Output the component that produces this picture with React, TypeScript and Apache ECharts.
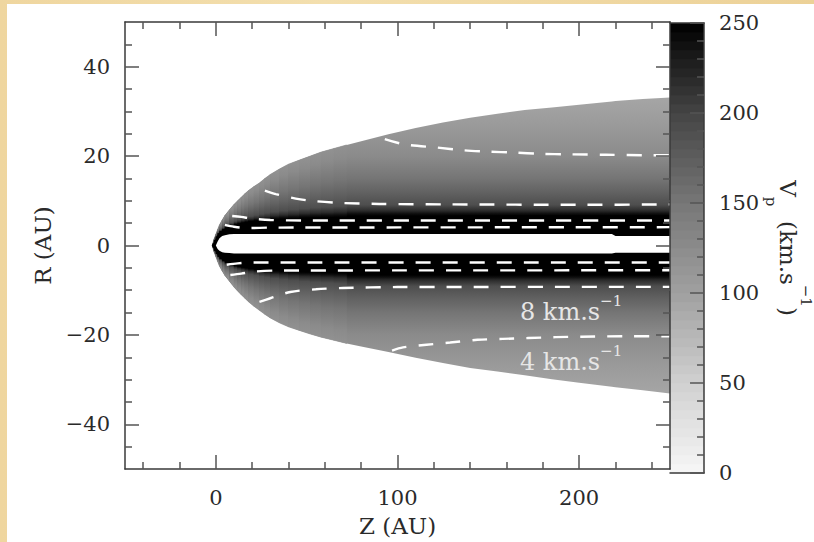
import React, { useEffect, useRef } from 'react';
import * as echarts from 'echarts';

// ---- axes ----
const zMin = -50;
const zMax = 250;
const rMin = -50;
const rMax = 50;
const zMajor = [0, 100, 200];
const zMinor = [-40, -20, 20, 40, 60, 80, 120, 140, 160, 180, 220, 240];
const rMajor = [-40, -20, 0, 20, 40];
const rMinor = [-45, -35, -30, -25, -15, -10, -5, 5, 10, 15, 25, 30, 35, 45];

// ---- colour bar (V_p, km/s) ----
const cbMin = 0;
const cbMax = 250;
const cbStopV = [0, 50, 100, 150, 200, 250];
const cbStopG = [247, 208, 160, 119, 68, 0];
const cbLevels = [0, 5, 10, 15, 20, 25, 30, 35, 40, 45, 50, 55, 60, 65, 70, 75, 80, 85, 90, 95, 100, 105, 110, 115, 120, 125, 130, 135, 140, 145, 150, 155, 160, 165, 170, 175, 180, 185, 190, 195, 200, 205, 210, 215, 220, 225, 230, 235, 240, 245];

// ---- field geometry (Z in AU, R in AU) ----
const zGrid = [-2, -1, 0, 1, 2, 3.5, 5, 7.5, 10, 12, 14, 16, 18, 21, 24, 27, 30, 35, 40, 46, 52, 58, 65, 72, 80, 95, 110, 125, 140, 155, 170, 185, 200, 218, 220, 235, 250];
const outerTop = [0, 1.4, 2.5, 3.6, 4.6, 5.7, 6.7, 8.0, 9.2, 10.0, 10.8, 11.6, 12.3, 13.2, 14.0, 15.0, 15.9, 17.1, 18.2, 19.1, 20.0, 20.9, 21.7, 22.5, 23.3, 24.9, 26.3, 27.5, 28.6, 29.5, 30.3, 30.9, 31.5, 32.2, 32.3, 32.8, 33.1];
const outerBot = [0, -1.4, -2.5, -3.6, -4.6, -5.7, -6.7, -8.0, -9.3, -10.2, -11.0, -11.8, -12.6, -13.6, -14.5, -15.4, -16.2, -17.3, -18.2, -19.0, -19.8, -20.5, -21.2, -21.9, -22.6, -23.8, -25.1, -26.3, -27.4, -28.2, -29.0, -29.9, -30.7, -31.6, -31.7, -32.4, -33.1];
const blackTop = [0, 0.8, 1.5, 2.4, 2.9, 3.4, 3.8, 4.2, 4.6, 4.8, 5.0, 5.15, 5.3, 5.45, 5.6, 5.7, 5.8, 5.9, 6.0, 6.1, 6.2, 6.25, 6.3, 6.35, 6.4, 6.5, 6.6, 6.6, 6.7, 6.7, 6.7, 6.7, 6.7, 6.7, 6.7, 6.7, 6.7];
const blackBot = [0, -0.8, -1.4, -2.2, -2.7, -3.2, -3.6, -4.0, -4.4, -4.6, -4.8, -4.95, -5.1, -5.25, -5.4, -5.5, -5.6, -5.7, -5.8, -5.9, -6.0, -6.05, -6.1, -6.15, -6.2, -6.3, -6.4, -6.5, -6.5, -6.5, -6.6, -6.6, -6.6, -6.6, -6.6, -6.6, -6.6];
const whiteTop = [0, 0, 0, 0.9, 1.6, 2.1, 2.3, 2.5, 2.6, 2.6, 2.6, 2.6, 2.6, 2.6, 2.6, 2.6, 2.6, 2.6, 2.6, 2.6, 2.6, 2.6, 2.6, 2.6, 2.6, 2.6, 2.6, 2.6, 2.6, 2.6, 2.6, 2.6, 2.6, 2.6, 2.1, 2.1, 2.1];
const whiteBot = [0, 0, 0, -0.8, -1.2, -1.5, -1.6, -1.7, -1.8, -1.8, -1.8, -1.8, -1.8, -1.8, -1.8, -1.8, -1.8, -1.8, -1.8, -1.8, -1.8, -1.8, -1.8, -1.8, -1.8, -1.8, -1.8, -1.8, -1.8, -1.8, -1.8, -1.8, -1.8, -1.8, -1.6, -1.6, -1.6];

// V_p profile vs distance (AU) outward from the black core edge, read at Z ~ 200
const coreRef = 6.6;
const dProfile = [0, 0.5, 1.2, 2.5, 5.5, 8.4, 13.4, 18.4, 23.3, 27];
const vProfile = [250, 240, 218, 190, 170, 152, 126, 112, 100, 94];
const spanRef = 16; // core-to-edge width (AU) below which the profile is compressed (nose)

// ---- dashed contours ----
const cAupZ = [93, 104, 122, 136, 150, 164, 179, 194, 215, 238, 250];
const cAupR = [23.8, 22.6, 21.9, 21.3, 21.0, 20.8, 20.5, 20.4, 20.3, 20.2, 20.2];
const cAloZ = [97, 103, 116, 129, 144, 158, 172, 187, 201, 225, 250];
const cAloR = [-23.5, -22.8, -22.2, -21.7, -21.1, -20.9, -20.7, -20.5, -20.4, -20.3, -20.3];
const cBupZ = [27, 33, 44, 55, 70, 90, 130, 200, 250];
const cBupR = [12.3, 11.5, 10.5, 9.9, 9.5, 9.3, 9.2, 9.1, 9.2];
const cBloZ = [24, 30, 41, 55, 70, 100, 250];
const cBloR = [-12.6, -11.8, -10.4, -9.8, -9.5, -9.3, -9.25];
const cCupZ = [9, 14, 20, 30, 50, 250];
const cCupR = [6.6, 6.4, 6.0, 5.7, 5.6, 5.6];
const cDupZ = [5, 10, 18, 30, 250];
const cDupR = [4.6, 4.2, 3.9, 4.0, 4.1];
const cDloZ = [6, 12, 20, 250];
const cDloR = [-4.3, -4.0, -3.8, -3.8];
const cCloZ = [8, 14, 22, 35, 250];
const cCloR = [-6.6, -6.3, -5.8, -5.6, -5.55];

// ---- annotations ----
const annoZ = [167.4, 167.4];
const annoR = [-14.9, -26.0];
const annoMain = ['8 km.s', '4 km.s'];
const annoSup = ['\u22121', '\u22121'];

const FONT = "'DejaVu Serif', serif";
const TEXT = '#2a2a2a';

function grayOf(v: number): string {
  const vv = Math.max(cbStopV[0], Math.min(cbStopV[cbStopV.length - 1], v));
  let k = 0;
  while (k < cbStopV.length - 2 && vv > cbStopV[k + 1]) k++;
  const f = (vv - cbStopV[k]) / (cbStopV[k + 1] - cbStopV[k]);
  const g = Math.round(cbStopG[k] + f * (cbStopG[k + 1] - cbStopG[k]));
  return `rgb(${g},${g},${g})`;
}

const zip = (a: number[], b: number[]) => a.map((v, i) => [v, b[i]]);

function buildOption(): any {
  const axisLine = { show: true, onZero: false, lineStyle: { color: '#3a3a3a', width: 1.5 } };
  const noLine = { show: false, onZero: false };
  const tickStyle = { color: '#555', width: 1.5 };
  const major = (vals: number[]) => ({ show: true, inside: true, length: 14, customValues: vals, lineStyle: tickStyle });
  const minor = (vals: number[]) => ({ show: true, inside: true, length: 7, customValues: vals, lineStyle: tickStyle });
  const labelStyle = { fontSize: 21, fontFamily: FONT, color: TEXT };
  const nameStyle = { fontSize: 23, fontFamily: FONT, color: TEXT };

  const xBase = { type: 'value', gridIndex: 0, min: zMin, max: zMax, splitLine: { show: false }, z: 10 };
  const yBase = { type: 'value', gridIndex: 0, min: rMin, max: rMax, splitLine: { show: false }, z: 10 };

  const dLast = dProfile[dProfile.length - 1];
  const stops = dProfile.map((d, k) => ({ offset: d / dLast, color: grayOf(vProfile[k]) }));

  // far field: one polygon per side (axis to outer edge), one gradient anchored at the core edge
  const renderFar = (_p: any, api: any) => {
    const side = api.value(1);
    const outer = side > 0 ? outerTop : outerBot;
    const pts: number[][] = [];
    for (let i = 0; i < zGrid.length; i++) pts.push(api.coord([zGrid[i], 0]));
    for (let i = zGrid.length - 1; i >= 0; i--) pts.push(api.coord([zGrid[i], outer[i]]));
    const yb = api.coord([0, side * coreRef])[1];
    const ye = api.coord([0, side * (coreRef + dLast)])[1];
    return {
      type: 'polygon', shape: { points: pts },
      style: { fill: { type: 'linear', x: 0, y: yb, x2: 0, y2: ye, global: true, colorStops: stops } },
    };
  };

  // nose: strips where the layer is thin, profile compressed to fit
  const noseData: number[][] = [];
  for (let i = 0; i < zGrid.length - 1; i++) {
    const span = (outerTop[i] + outerTop[i + 1] - blackTop[i] - blackTop[i + 1]) / 2;
    if (span < spanRef) {
      noseData.push([zGrid[i], 1, i]);
      noseData.push([zGrid[i], -1, i]);
    }
  }
  const renderNose = (_p: any, api: any) => {
    const side = api.value(1);
    const i = api.value(2);
    const outer = side > 0 ? outerTop : outerBot;
    const core = side > 0 ? blackTop : blackBot;
    const p1 = api.coord([zGrid[i], 0]);
    const p2 = api.coord([zGrid[i + 1], 0]);
    const p3 = api.coord([zGrid[i + 1], outer[i + 1]]);
    const p4 = api.coord([zGrid[i], outer[i]]);
    const coreMid = (core[i] + core[i + 1]) / 2;
    const span = Math.abs((outer[i] + outer[i + 1]) / 2 - coreMid);
    const s = Math.max(0.08, Math.min(1, span / spanRef));
    const yb = api.coord([0, coreMid])[1];
    const ye = api.coord([0, coreMid + side * dLast * s])[1];
    const grad = { type: 'linear', x: 0, y: yb, x2: 0, y2: ye, global: true, colorStops: stops };
    return {
      type: 'polygon',
      shape: { points: [p1, p2, p3, p4] },
      style: { fill: grad, stroke: grad, lineWidth: 0.6 },
    };
  };

  const renderBand = (top: number[], bot: number[], color: string) => (_p: any, api: any) => {
    const pts: number[][] = [];
    for (let i = 0; i < zGrid.length; i++) pts.push(api.coord([zGrid[i], top[i]]));
    for (let i = zGrid.length - 1; i >= 0; i--) pts.push(api.coord([zGrid[i], bot[i]]));
    return { type: 'polygon', shape: { points: pts }, style: { fill: color } };
  };

  const contourStyle = { color: '#ffffff', width: 2.4, type: [15, 12] };
  const contour = (name: string, z: number[], r: number[]) => ({
    type: 'line', name, xAxisIndex: 0, yAxisIndex: 0, data: zip(z, r),
    showSymbol: false, symbol: 'none', smooth: 0.3, lineStyle: contourStyle, z: 4, silent: true,
  });

  const richAnno = {
    m: { fontSize: 24, fontFamily: FONT, fill: '#e6e6e6', lineHeight: 37 },
    s: { fontSize: 15, fontFamily: FONT, fill: '#e6e6e6', verticalAlign: 'top' },
  };

  return {
    animation: false,
    textStyle: { fontFamily: FONT },
    grid: [
      { left: 125, top: 22, width: 545, height: 451 },
      { left: 670, top: 23, width: 39, height: 450 },
    ],
    xAxis: [
      { ...xBase, position: 'bottom', axisLine, axisTick: major(zMajor),
        axisLabel: { show: true, customValues: zMajor, margin: 18, ...labelStyle },
        name: 'Z (AU)', nameLocation: 'middle', nameGap: 45, nameTextStyle: nameStyle },
      { ...xBase, position: 'bottom', axisLine: noLine, axisTick: minor(zMinor), axisLabel: { show: false } },
      { ...xBase, position: 'top', axisLine, axisTick: major(zMajor), axisLabel: { show: false } },
      { ...xBase, position: 'top', axisLine: noLine, axisTick: minor(zMinor), axisLabel: { show: false } },
      { type: 'value', gridIndex: 1, min: 0, max: 1, position: 'bottom', axisLine, axisTick: { show: false }, axisLabel: { show: false }, splitLine: { show: false }, z: 10 },
      { type: 'value', gridIndex: 1, min: 0, max: 1, position: 'top', axisLine, axisTick: { show: false }, axisLabel: { show: false }, splitLine: { show: false }, z: 10 },
    ],
    yAxis: [
      { ...yBase, position: 'left', axisLine, axisTick: major(rMajor),
        axisLabel: { show: true, customValues: rMajor, margin: 15, ...labelStyle,
          formatter: (v: number) => String(v).replace('-', '\u2212') },
        name: 'R (AU)', nameLocation: 'middle', nameGap: 69, nameTextStyle: nameStyle },
      { ...yBase, position: 'left', axisLine: noLine, axisTick: minor(rMinor), axisLabel: { show: false } },
      { ...yBase, position: 'right', axisLine, axisTick: major(rMajor), axisLabel: { show: false } },
      { ...yBase, position: 'right', axisLine: noLine, axisTick: minor(rMinor), axisLabel: { show: false } },
      { type: 'value', gridIndex: 1, min: cbMin, max: cbMax, interval: 50, position: 'right',
        axisLine, axisTick: { show: true, inside: true, length: 14, lineStyle: tickStyle },
        minorTick: { show: true, splitNumber: 5, length: 7, lineStyle: tickStyle },
        axisLabel: { show: true, margin: 15, ...labelStyle }, splitLine: { show: false }, z: 10,
        name: '{m|V}{sub|p}{m|  (km.s}{sup|\u22121}{m|)}', nameLocation: 'middle', nameRotate: -90, nameGap: 54,
        nameTextStyle: {
          color: TEXT, fontFamily: FONT,
          rich: {
            m: { fontSize: 23, fontFamily: FONT, color: TEXT, lineHeight: 50 },
            sub: { fontSize: 15, fontFamily: FONT, color: TEXT, verticalAlign: 'bottom' },
            sup: { fontSize: 15, fontFamily: FONT, color: TEXT, verticalAlign: 'top' },
          },
        } },
    ],
    series: [
      { type: 'custom', name: 'field', xAxisIndex: 0, yAxisIndex: 0, clip: true, silent: true,
        data: [[0, 1], [0, -1]], renderItem: renderFar, z: 1 },
      { type: 'custom', name: 'field nose', xAxisIndex: 0, yAxisIndex: 0, clip: true, silent: true,
        data: noseData, renderItem: renderNose, z: 1 },
      { type: 'custom', name: 'core', xAxisIndex: 0, yAxisIndex: 0, clip: true, silent: true,
        data: [[0, 0]], renderItem: renderBand(blackTop, blackBot, '#000000'), z: 2 },
      { type: 'custom', name: 'channel', xAxisIndex: 0, yAxisIndex: 0, clip: true, silent: true,
        data: [[0, 0]], renderItem: renderBand(whiteTop, whiteBot, '#ffffff'), z: 3 },
      contour('4 km/s upper', cAupZ, cAupR),
      contour('4 km/s lower', cAloZ, cAloR),
      contour('8 km/s upper', cBupZ, cBupR),
      contour('8 km/s lower', cBloZ, cBloR),
      contour('c upper', cCupZ, cCupR),
      contour('c lower', cCloZ, cCloR),
      contour('d upper', cDupZ, cDupR),
      contour('d lower', cDloZ, cDloR),
      { type: 'custom', name: 'labels', xAxisIndex: 0, yAxisIndex: 0, silent: true, z: 5,
        data: annoZ.map((z, i) => [z, annoR[i], i]),
        renderItem: (_p: any, api: any) => {
          const p = api.coord([api.value(0), api.value(1)]);
          const k = api.value(2);
          return {
            type: 'text', x: p[0], y: p[1],
            style: { text: `{m|${annoMain[k]}}{s|${annoSup[k]}}`, rich: richAnno, align: 'left', verticalAlign: 'middle', fill: '#e6e6e6' },
          };
        } },
      { type: 'custom', name: 'colorbar', xAxisIndex: 4, yAxisIndex: 4, silent: true, z: 1,
        data: cbLevels.map((v) => [0.5, v]),
        renderItem: (_p: any, api: any) => {
          const v = api.value(1);
          const a = api.coord([0, v]);
          const b = api.coord([1, v + 5]);
          return {
            type: 'rect',
            shape: { x: a[0], y: b[1], width: b[0] - a[0], height: a[1] - b[1] + 0.3 },
            style: { fill: grayOf(v + 2.5) },
          };
        } },
    ],
  };
}

export default function App() {
  const ref = useRef<HTMLDivElement>(null);
  useEffect(() => {
    if (!ref.current) return;
    const chart = echarts.init(ref.current, null, { renderer: 'svg' });
    chart.setOption(buildOption());
    return () => chart.dispose();
  }, []);
  return (
    <div style={{ position: 'fixed', left: 0, top: 0, width: 814, height: 542, overflow: 'hidden',
      background: 'linear-gradient(90deg, #efd69f 0%, #f3dfae 40%, #ecd197 100%)' }}>
      <div style={{ position: 'absolute', left: 7, top: 4, right: 0, bottom: 0, background: '#ffffff' }} />
      <div ref={ref} style={{ position: 'absolute', left: 0, top: 0, width: 814, height: 542 }} />
    </div>
  );
}
